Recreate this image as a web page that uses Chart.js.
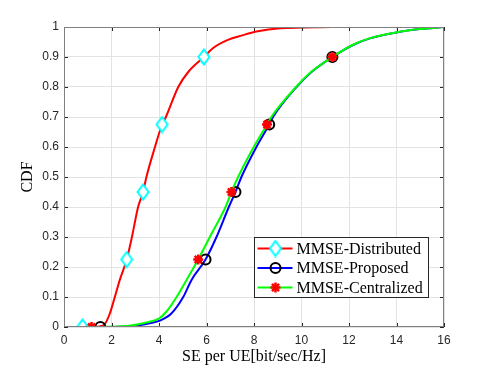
<!DOCTYPE html>
<html><head><meta charset="utf-8">
<script src="https://cdn.jsdelivr.net/npm/chart.js@4/dist/chart.umd.min.js"></script>
<style>html,body{margin:0;padding:0;background:#fff}</style>
</head><body>
<canvas id="c" width="491" height="368" style="display:block;width:491px;height:368px"></canvas>
<script>
// ---- data ----
const seriesNames = ['MMSE-Distributed', 'MMSE-Proposed', 'MMSE-Centralized'];
const xTicks = [0, 2, 4, 6, 8, 10, 12, 14, 16];
const yTicks = [0, 0.1, 0.2, 0.3, 0.4, 0.5, 0.6, 0.7, 0.8, 0.9, 1];
const yTickLabels = ['0', '0.1', '0.2', '0.3', '0.4', '0.5', '0.6', '0.7', '0.8', '0.9', '1'];

const distX = [0.78, 1.5, 1.72, 1.93, 2.14, 2.35, 2.64, 2.86, 3.12, 3.33, 3.47, 3.83, 4.13, 4.29, 4.81, 5.23, 5.89, 6.28, 6.9, 7.5, 8.1, 9.1, 11.26];
const distY = [0, 0.002, 0.01, 0.045, 0.1, 0.157, 0.225, 0.3, 0.4, 0.45, 0.5, 0.6, 0.675, 0.7, 0.8, 0.85, 0.9, 0.93, 0.957, 0.972, 0.985, 0.996, 1.0];

const propX = [1.53, 2.63, 3.47, 4.03, 4.52, 5.02, 5.37, 5.96, 6.42, 6.94, 7.22, 7.47, 8.1, 8.64, 8.8, 9.79, 10.42, 11.3, 12.17, 12.88, 14.0, 14.98, 16];
const propY = [0, 0.002, 0.01, 0.021, 0.045, 0.1, 0.157, 0.225, 0.3, 0.4, 0.45, 0.5, 0.6, 0.675, 0.7, 0.8, 0.85, 0.9, 0.94, 0.962, 0.982, 0.993, 1.0];

const centX = [1.16, 2.63, 3.47, 4.03, 4.35, 4.74, 5.16, 5.65, 6.14, 6.8, 7.05, 7.33, 7.99, 8.55, 8.73, 9.77, 10.4, 11.3, 12.15, 12.86, 13.98, 14.97, 16];
const centY = [0, 0.003, 0.015, 0.03, 0.055, 0.1, 0.157, 0.225, 0.3, 0.4, 0.45, 0.5, 0.6, 0.675, 0.7, 0.8, 0.85, 0.9, 0.94, 0.962, 0.982, 0.993, 1.0];

const markerY = [0, 0.225, 0.45, 0.675, 0.9];
const distMarkX = [0.78, 2.64, 3.33, 4.13, 5.89];
const propMarkX = [1.53, 5.96, 7.22, 8.64, 11.3];
const centMarkX = [1.16, 5.65, 7.05, 8.55, 11.3];

// ---- helpers ----
const pts = (xs, ys) => xs.map((x, i) => ({x: x, y: ys[i]}));

function diamondCanvas() {
  const c = document.createElement('canvas');
  c.width = 14; c.height = 18;
  const g = c.getContext('2d');
  g.beginPath();
  g.moveTo(7, 1.5); g.lineTo(12.5, 9); g.lineTo(7, 16.5); g.lineTo(1.5, 9); g.closePath();
  g.fillStyle = '#ffffff'; g.fill();
  g.strokeStyle = '#00ffff'; g.lineWidth = 2; g.stroke();
  return c;
}
const diamondImg = diamondCanvas();

const colors = {dist: '#ff0000', prop: '#0000ff', cent: '#00ff00'};

const lineDs = (label, data, color, order) => ({
  label: label, data: data, showLine: true, borderColor: color, borderWidth: 2,
  pointRadius: 0, pointHoverRadius: 0, fill: false,
  cubicInterpolationMode: 'monotone', order: order
});

const datasets = [
  lineDs(seriesNames[0], pts(distX, distY), colors.dist, 6),
  {label: seriesNames[0] + ' markers', data: pts(distMarkX, markerY), showLine: false,
   pointStyle: diamondImg, pointRadius: 7, order: 5},
  lineDs(seriesNames[1], pts(propX, propY), colors.prop, 4),
  {label: seriesNames[1] + ' markers', data: pts(propMarkX, markerY), showLine: false,
   pointStyle: 'circle', pointRadius: 5, borderWidth: 2, borderColor: '#000000',
   backgroundColor: 'rgba(0,0,0,0)', order: 3},
  lineDs(seriesNames[2], pts(centX, centY), colors.cent, 2),
  {label: seriesNames[2] + ' markers', data: pts(centMarkX, markerY), showLine: false,
   pointStyle: 'star', pointRadius: 5, borderWidth: 2.5, borderColor: '#ff0000',
   backgroundColor: '#ff0000', order: 1}
];

const framePlugin = {
  id: 'frame',
  afterDatasetsDraw(chart) {
    const {ctx, chartArea: a, scales: {x, y}} = chart;
    ctx.save();
    ctx.strokeStyle = '#262626';
    ctx.lineWidth = 1;
    const ln = (x1, y1, x2, y2) => { ctx.beginPath(); ctx.moveTo(x1, y1); ctx.lineTo(x2, y2); ctx.stroke(); };
    xTicks.forEach(v => {
      const px = Math.round(x.getPixelForValue(v)) + 0.5;
      ln(px, a.bottom, px, a.bottom - 4);
      ln(px, a.top, px, a.top + 4);
    });
    yTicks.forEach(v => {
      const py = Math.round(y.getPixelForValue(v)) + 0.5;
      ln(a.left, py, a.left + 4, py);
      ln(a.right, py, a.right - 4, py);
    });
    ctx.strokeStyle = '#808080';
    ctx.strokeRect(Math.round(a.left) + 0.5, Math.round(a.top) + 0.5,
                   Math.round(a.width) - 1, Math.round(a.height) - 1);
    ctx.restore();
  }
};

const legendPlugin = {
  id: 'matlabLegend',
  afterDraw(chart) {
    const {ctx, chartArea: a} = chart;
    const w = 174, h = 60;
    const bx = Math.round(a.right) - 16 - w + 0.5;
    const by = Math.round(a.bottom) - 30 - h + 0.5;
    ctx.save();
    ctx.fillStyle = '#ffffff';
    ctx.fillRect(bx, by, w, h);
    ctx.strokeStyle = '#262626'; ctx.lineWidth = 1;
    ctx.strokeRect(bx, by, w, h);
    const lineCols = [colors.dist, colors.prop, colors.cent];
    seriesNames.forEach((name, i) => {
      const cy = by + 11 + i * 19.5;
      ctx.strokeStyle = lineCols[i]; ctx.lineWidth = 2;
      ctx.beginPath(); ctx.moveTo(bx + 3, cy); ctx.lineTo(bx + 38, cy); ctx.stroke();
      const mx = bx + 21;
      if (i === 0) {
        ctx.drawImage(diamondImg, mx - 7, cy - 9);
      } else if (i === 1) {
        ctx.beginPath(); ctx.arc(mx, cy, 5, 0, Math.PI * 2);
        ctx.strokeStyle = '#000000'; ctx.lineWidth = 2; ctx.stroke();
      } else {
        ctx.strokeStyle = '#ff0000'; ctx.lineWidth = 2.5;
        for (let k = 0; k < 4; k++) {
          const ang = k * Math.PI / 4;
          ctx.beginPath();
          ctx.moveTo(mx - 5 * Math.cos(ang), cy - 5 * Math.sin(ang));
          ctx.lineTo(mx + 5 * Math.cos(ang), cy + 5 * Math.sin(ang));
          ctx.stroke();
        }
      }
      ctx.fillStyle = '#000000';
      ctx.font = '16px "Liberation Serif", "Times New Roman", serif';
      ctx.textAlign = 'left'; ctx.textBaseline = 'middle';
      ctx.fillText(name, bx + 42, cy + 1);
    });
    ctx.restore();
  }
};

const tickFont = {family: '"Liberation Sans", Arial, Helvetica, sans-serif', size: 12};
const titleFont = {family: '"Liberation Serif", "Times New Roman", serif', size: 16};

new Chart(document.getElementById('c'), {
  type: 'scatter',
  data: {datasets: datasets},
  options: {
    responsive: false,
    devicePixelRatio: 1,
    animation: false,
    layout: {padding: {top: 27, right: 47, left: 0, bottom: 0}},
    plugins: {legend: {display: false}, tooltip: {enabled: false}},
    scales: {
      x: {
        type: 'linear', min: 0, max: 16,
        afterBuildTicks: s => { s.ticks = xTicks.map(v => ({value: v})); },
        afterFit: s => { s.height = 41; },
        grid: {color: '#e3e3e3', drawTicks: false},
        border: {display: false},
        ticks: {font: tickFont, color: '#262626', padding: 6, maxRotation: 0,
                callback: v => String(v)},
        title: {display: true, text: 'SE per UE[bit/sec/Hz]', font: titleFont,
                color: '#000000', padding: {top: 0, bottom: 2}}
      },
      y: {
        type: 'linear', min: 0, max: 1,
        afterBuildTicks: s => { s.ticks = yTicks.map(v => ({value: v})); },
        afterFit: s => { s.width = 64; },
        grid: {color: '#e3e3e3', drawTicks: false},
        border: {display: false},
        ticks: {font: tickFont, color: '#262626', padding: 5,
                callback: (v, i) => yTickLabels[i]},
        title: {display: true, text: 'CDF', font: titleFont, color: '#000000',
                padding: {top: 18, bottom: 0}}
      }
    }
  },
  plugins: [framePlugin, legendPlugin]
});
</script>
</body></html>
